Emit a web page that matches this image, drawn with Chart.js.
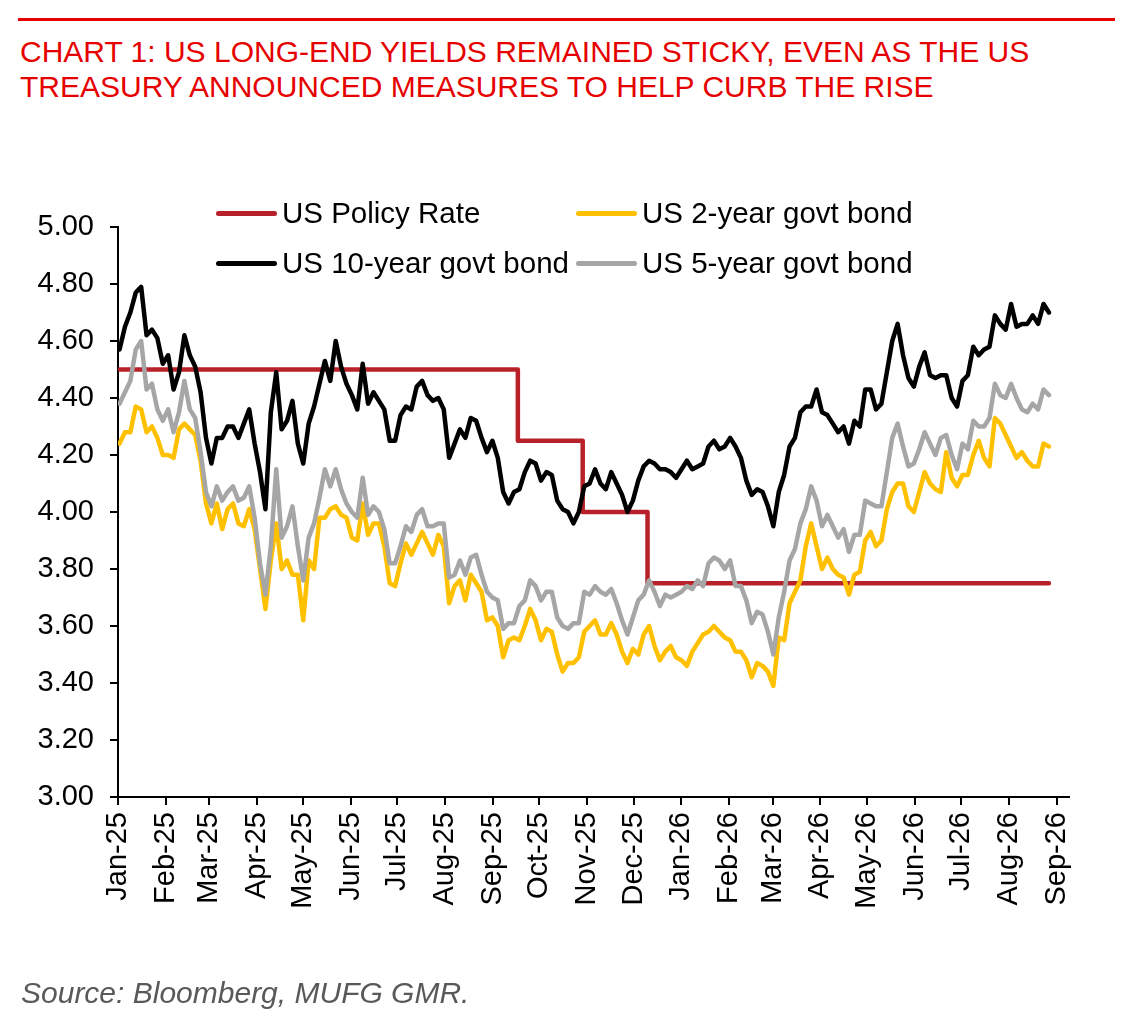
<!DOCTYPE html>
<html>
<head>
<meta charset="utf-8">
<title>US long-end yields</title>
<script src="https://cdn.jsdelivr.net/npm/chart.js@4.4.0/dist/chart.umd.min.js"></script>
<style>
  html, body { margin: 0; padding: 0; background: #fff; }
  #page { position: relative; width: 1123px; height: 1033px; overflow: hidden; font-family: "Liberation Sans", Arial, sans-serif; }
  #topRule { position: absolute; left: 18px; top: 18px; width: 1097px; height: 3px; background: #e60000; }
  #title { position: absolute; left: 20px; top: 34px; margin: 0; font-size: 30px; line-height: 35px; font-weight: normal; color: #e60000; }
  #chart { position: absolute; left: 0; top: 0; }
  #legend { position: absolute; left: 216px; top: 188px; display: grid; grid-template-columns: 360px 360px; }
  .item { display: flex; align-items: center; height: 50px; font-size: 29.5px; color: #000; white-space: nowrap; }
  .swatch { width: 61px; height: 5px; border-radius: 3px; margin-right: 5px; }
  #source { position: absolute; left: 21px; top: 976px; font-size: 30px; font-style: italic; color: #595959; }
</style>
</head>
<body>
<div id="page">
  <div id="topRule"></div>
  <h1 id="title">CHART 1: US LONG-END YIELDS REMAINED STICKY, EVEN AS THE US<br>TREASURY ANNOUNCED MEASURES TO HELP CURB THE RISE</h1>
  <canvas id="chart" width="1123" height="1033"></canvas>
  <div id="legend"></div>
  <div id="source">Source: Bloomberg, MUFG GMR.</div>
</div>
<script>
// x axis: days since 1 Jan 2025, one label per month
const monthLabels = ["Jan-25","Feb-25","Mar-25","Apr-25","May-25","Jun-25","Jul-25","Aug-25","Sep-25","Oct-25","Nov-25","Dec-25",
  "Jan-26","Feb-26","Mar-26","Apr-26","May-26","Jun-26","Jul-26","Aug-26","Sep-26"];
const monthDays = [0,31,59,90,120,151,181,212,243,273,304,334,365,396,424,455,485,516,546,577,608];

// bond yields sampled twice a week, starting 2 Jan 2025
const firstDay = 1;
const stepDays = 3.5;

const us10y = [
  4.57,4.65,4.70,4.77,4.79,4.62,4.64,4.61,4.52,4.55,4.43,4.49,4.62,4.55,4.51,4.42,4.26,4.17,4.26,4.26,
  4.30,4.30,4.26,4.31,4.36,4.24,4.14,4.01,4.35,4.49,4.29,4.32,4.39,4.24,4.17,4.31,4.37,4.45,4.53,4.46,
  4.60,4.51,4.45,4.41,4.36,4.52,4.38,4.42,4.39,4.36,4.25,4.25,4.34,4.37,4.36,4.44,4.46,4.41,4.39,4.40,
  4.36,4.19,4.24,4.29,4.26,4.33,4.32,4.26,4.21,4.25,4.19,4.07,4.03,4.07,4.08,4.14,4.18,4.17,4.11,4.14,
  4.13,4.04,4.01,4.00,3.96,4.00,4.09,4.10,4.15,4.10,4.08,4.14,4.10,4.06,4.00,4.04,4.11,4.16,4.18,4.17,
  4.15,4.15,4.14,4.12,4.15,4.18,4.15,4.16,4.17,4.23,4.25,4.22,4.23,4.26,4.23,4.19,4.11,4.06,4.08,4.07,
  4.02,3.95,4.07,4.13,4.23,4.26,4.35,4.37,4.37,4.43,4.35,4.34,4.31,4.28,4.30,4.24,4.32,4.30,4.43,4.43,
  4.36,4.38,4.49,4.60,4.66,4.55,4.47,4.44,4.51,4.56,4.48,4.47,4.48,4.48,4.40,4.37,4.46,4.48,4.58,4.55,
  4.57,4.58,4.69,4.66,4.64,4.73,4.65,4.66,4.66,4.69,4.66,4.73,4.70
];
const us5y = [
  4.38,4.42,4.46,4.57,4.60,4.43,4.45,4.36,4.32,4.36,4.28,4.35,4.46,4.36,4.33,4.21,4.07,4.02,4.09,4.04,
  4.07,4.09,4.04,4.05,4.09,3.98,3.82,3.71,3.88,4.15,3.91,3.95,4.02,3.88,3.76,3.91,3.96,4.05,4.15,4.09,
  4.15,4.08,4.03,4.00,3.98,4.12,3.99,4.02,4.00,3.94,3.82,3.82,3.88,3.95,3.93,3.99,4.01,3.95,3.95,3.96,
  3.96,3.77,3.78,3.83,3.78,3.84,3.85,3.78,3.72,3.70,3.69,3.59,3.61,3.61,3.67,3.69,3.76,3.74,3.69,3.72,
  3.72,3.63,3.60,3.59,3.61,3.61,3.72,3.71,3.74,3.72,3.71,3.73,3.68,3.62,3.57,3.63,3.69,3.71,3.76,3.72,
  3.67,3.71,3.70,3.71,3.72,3.74,3.73,3.76,3.74,3.82,3.84,3.83,3.80,3.83,3.74,3.74,3.69,3.61,3.65,3.64,
  3.58,3.50,3.63,3.72,3.83,3.87,3.96,4.01,4.09,4.04,3.95,3.99,3.95,3.91,3.94,3.86,3.92,3.92,4.04,4.03,
  4.02,4.02,4.14,4.26,4.31,4.23,4.16,4.17,4.22,4.28,4.24,4.20,4.26,4.27,4.20,4.15,4.24,4.22,4.32,4.30,
  4.30,4.33,4.45,4.41,4.40,4.45,4.40,4.36,4.35,4.38,4.36,4.43,4.41
];
const us2y = [
  4.24,4.28,4.28,4.37,4.36,4.28,4.30,4.26,4.20,4.20,4.19,4.29,4.31,4.29,4.27,4.18,4.03,3.96,4.03,3.94,
  4.01,4.03,3.96,3.95,4.01,3.94,3.80,3.66,3.83,3.96,3.80,3.83,3.78,3.78,3.62,3.83,3.80,3.98,3.98,4.01,
  4.02,3.99,3.98,3.91,3.90,4.03,3.92,3.96,3.96,3.88,3.75,3.74,3.82,3.89,3.85,3.89,3.93,3.89,3.85,3.92,
  3.88,3.68,3.74,3.76,3.69,3.78,3.75,3.72,3.62,3.63,3.60,3.49,3.55,3.56,3.55,3.60,3.66,3.62,3.55,3.59,
  3.58,3.50,3.44,3.47,3.47,3.49,3.58,3.60,3.62,3.57,3.57,3.61,3.57,3.51,3.47,3.52,3.50,3.57,3.60,3.53,
  3.48,3.51,3.53,3.49,3.48,3.46,3.51,3.54,3.57,3.58,3.60,3.58,3.56,3.55,3.51,3.51,3.48,3.42,3.47,3.46,
  3.44,3.39,3.56,3.55,3.68,3.72,3.76,3.88,3.96,3.88,3.80,3.84,3.80,3.78,3.77,3.71,3.78,3.79,3.90,3.93,
  3.88,3.90,4.01,4.07,4.10,4.10,4.02,4.00,4.07,4.14,4.10,4.08,4.07,4.21,4.12,4.09,4.13,4.13,4.20,4.25,
  4.19,4.16,4.33,4.31,4.27,4.23,4.19,4.21,4.18,4.16,4.16,4.24,4.23
];

// policy rate: value holds until the next decision day
const policyDays = [1, 259, 301, 343, 603];
const policyRate = [4.50, 4.25, 4.00, 3.75, 3.75];

const seriesLabels = ["US Policy Rate", "US 2-year govt bond", "US 10-year govt bond", "US 5-year govt bond"];
const seriesColors = ["#b8202a", "#ffc000", "#000000", "#a6a6a6"];

function toPoints(vals) {
  return vals.map((v, i) => ({ x: firstDay + i * stepDays, y: v }));
}

const lineStyle = { borderWidth: 4.5, pointRadius: 0, tension: 0, borderJoinStyle: "round", borderCapStyle: "round", fill: false };

const datasets = [
  Object.assign({ label: seriesLabels[0], data: policyDays.map((d, i) => ({ x: d, y: policyRate[i] })), stepped: true,
    borderColor: seriesColors[0], order: 4 }, lineStyle),
  Object.assign({ label: seriesLabels[1], data: toPoints(us2y), borderColor: seriesColors[1], order: 3 }, lineStyle),
  Object.assign({ label: seriesLabels[2], data: toPoints(us10y), borderColor: seriesColors[2], order: 2 }, lineStyle),
  Object.assign({ label: seriesLabels[3], data: toPoints(us5y), borderColor: seriesColors[3], order: 1 }, lineStyle)
];

const tickFont = { family: "'Liberation Sans', Arial, sans-serif", size: 29 };

new Chart(document.getElementById("chart"), {
  type: "line",
  data: { datasets: datasets },
  options: {
    responsive: false,
    animation: false,
    layout: { padding: { left: 0, top: 227, right: 54, bottom: 96 } },
    plugins: { legend: { display: false }, tooltip: { enabled: false } },
    scales: {
      x: {
        type: "linear",
        min: 0,
        max: 616,
        afterFit: s => { s.height = 140; },
        afterBuildTicks: s => { s.ticks = monthDays.map(v => ({ value: v })); },
        ticks: {
          autoSkip: false, minRotation: 90, maxRotation: 90, padding: 7, color: "#000", font: tickFont,
          callback: (v, i) => monthLabels[i]
        },
        grid: { drawOnChartArea: false, drawTicks: true, tickLength: 8, color: "#000", lineWidth: 2 },
        border: { display: true, color: "#000", width: 2 }
      },
      y: {
        min: 3,
        max: 5,
        afterFit: s => { s.width = 118; },
        ticks: { stepSize: 0.2, padding: 16, color: "#000", font: tickFont, callback: v => Number(v).toFixed(2) },
        grid: { drawOnChartArea: false, drawTicks: true, tickLength: 8, color: "#000", lineWidth: 2 },
        border: { display: true, color: "#000", width: 2 }
      }
    }
  }
});

// legend in two aligned columns, same order as the reference
const legend = document.getElementById("legend");
[0, 1, 2, 3].forEach(i => {
  const item = document.createElement("div");
  item.className = "item";
  item.innerHTML = `<span class="swatch" style="background:${seriesColors[i]}"></span>${seriesLabels[i]}`;
  legend.appendChild(item);
});
</script>
</body>
</html>
